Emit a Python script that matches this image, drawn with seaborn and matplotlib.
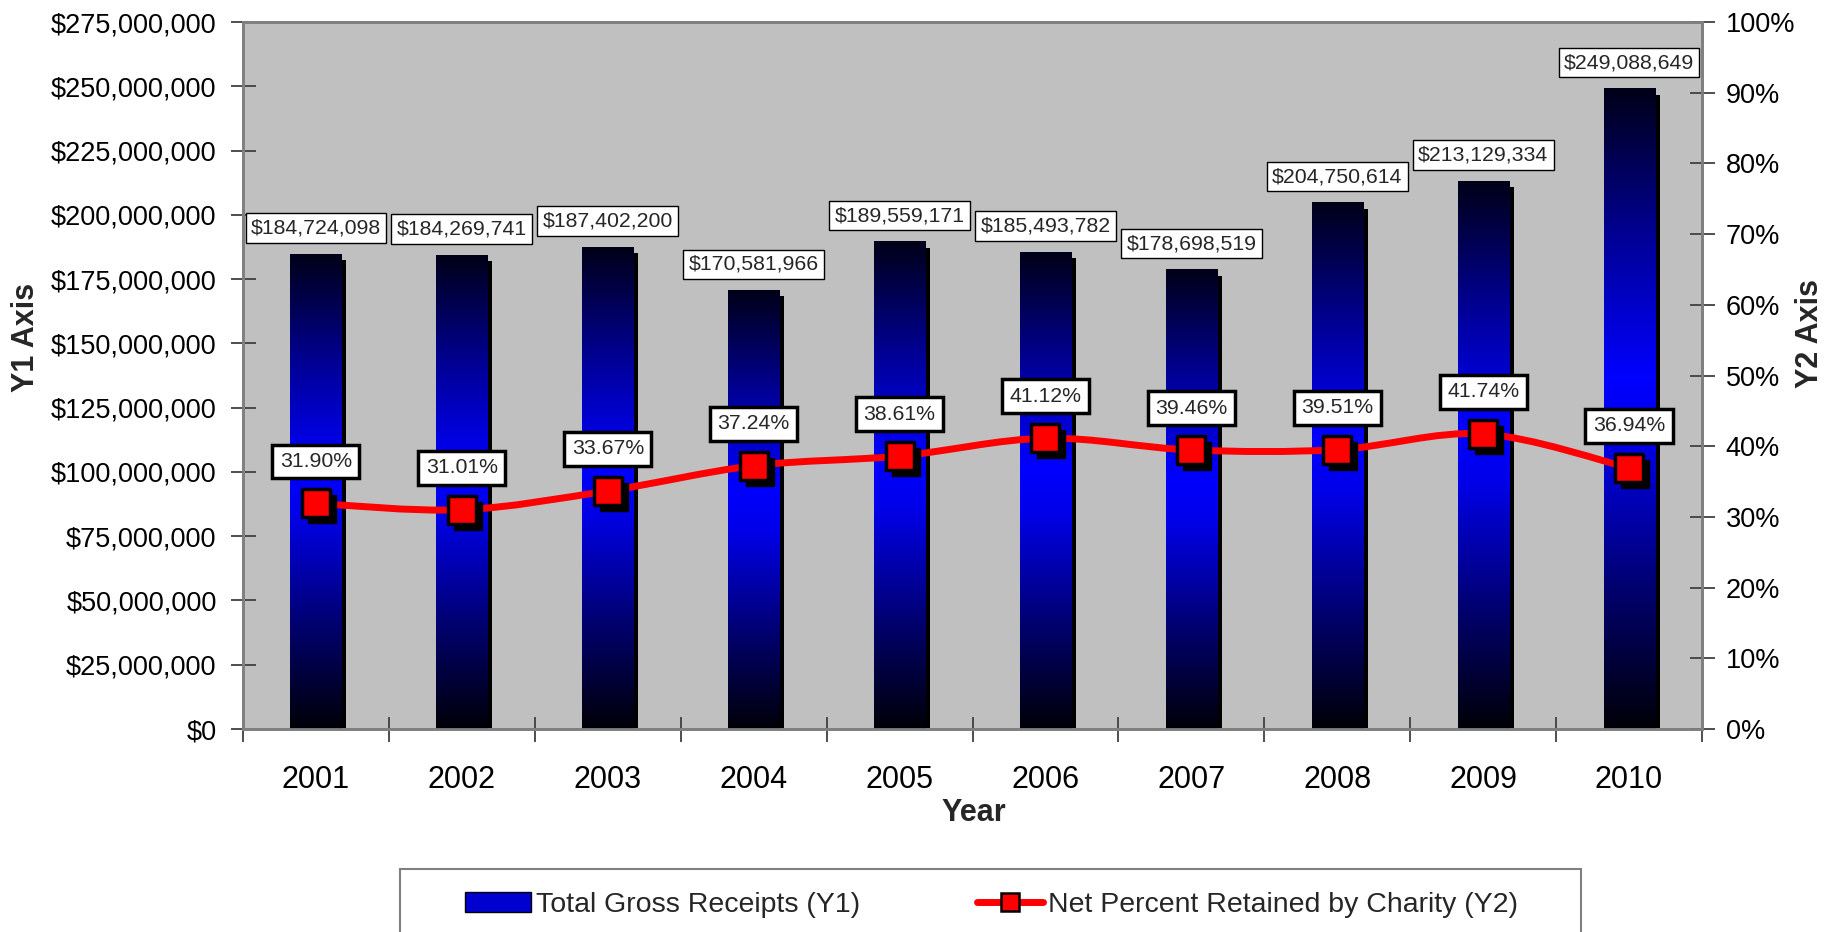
import numpy as np
import pandas as pd
import matplotlib
matplotlib.use("Agg")
import matplotlib.pyplot as plt
import matplotlib.transforms as mtransforms
from matplotlib.colors import LinearSegmentedColormap
from matplotlib.path import Path
from matplotlib.patches import PathPatch, Rectangle, Patch
from matplotlib.lines import Line2D
from matplotlib.ticker import FuncFormatter, MultipleLocator, FixedLocator
import seaborn as sns

# data
years = ["2001", "2002", "2003", "2004", "2005", "2006", "2007", "2008", "2009", "2010"]
gross_receipts = [184724098, 184269741, 187402200, 170581966, 189559171,
                  185493782, 178698519, 204750614, 213129334, 249088649]
net_pct = [31.90, 31.01, 33.67, 37.24, 38.61, 41.12, 39.46, 39.51, 41.74, 36.94]

bar_label = "Total Gross Receipts (Y1)"
line_label = "Net Percent Retained by Charity (Y2)"

sns.set_theme(style="white")
plt.rcParams['font.family'] = ['Liberation Sans', 'DejaVu Sans']

W, H = 1837, 932
fig = plt.figure(figsize=(W / 100, H / 100), dpi=100)
ax = fig.add_axes([243 / W, 1 - 729 / H, (1702 - 243) / W, (729 - 22) / H])
ax.set_facecolor('#C0C0C0')

df = pd.DataFrame({"Year": years, "Gross": gross_receipts, "Pct": net_pct})
sns.barplot(data=df, x="Year", y="Gross", ax=ax, width=0.35, color="blue",
            saturation=1, zorder=3)

# excel-ish gradient fill + drop shadow on each bar
cmap = LinearSegmentedColormap.from_list(
    "bar_grad", [(0.0, "#000008"), (0.22, "#000070"), (0.45, "#0000e8"),
                 (0.55, "#0000ff"), (0.78, "#000090"), (1.0, "#000018")])
grad = np.linspace(0, 1, 512).reshape(-1, 1)
shadow_off = mtransforms.ScaledTranslation(5 / 100, -6 / 100, fig.dpi_scale_trans)
for p in ax.patches:
    x0, w, h = p.get_x(), p.get_width(), p.get_height()
    p.set_facecolor("none")
    p.set_edgecolor("none")
    ax.add_patch(Rectangle((x0, 0), w, h, facecolor="black", edgecolor="none",
                           transform=ax.transData + shadow_off, zorder=2))
    ax.imshow(grad, extent=[x0, x0 + w, 0, h], aspect="auto", cmap=cmap,
              origin="lower", zorder=3, interpolation="bilinear")

ax.set_xlim(-0.5, len(years) - 0.5)
ax.set_ylim(0, 275e6)
ax.yaxis.set_major_locator(MultipleLocator(25e6))
ax.yaxis.set_major_formatter(FuncFormatter(lambda v, _: f"${v:,.0f}"))
ax.set_xlabel("")
ax.set_ylabel("")

# dollar labels above bars
for i, g in enumerate(gross_receipts):
    ax.annotate(f"${g:,.0f}", (i, g), xytext=(0, 26), textcoords="offset pixels",
                ha="center", va="center", fontsize=15.3, zorder=6,
                bbox=dict(boxstyle="square,pad=0.25", fc="white", ec="black", lw=1))

# secondary axis with the smoothed line
ax2 = ax.twinx()
ax2.set_ylim(0, 100)
ax2.yaxis.set_major_locator(MultipleLocator(10))
ax2.yaxis.set_major_formatter(FuncFormatter(lambda v, _: f"{v:.0f}%"))

xs = np.arange(len(years), dtype=float)
ys = np.array(net_pct)
pts = np.column_stack([xs, ys])
verts = [pts[0]]
codes = [Path.MOVETO]
n = len(pts)
for i in range(n - 1):
    p0 = pts[i - 1] if i > 0 else pts[i]
    p3 = pts[i + 2] if i + 2 < n else pts[i + 1]
    c1 = pts[i] + (pts[i + 1] - p0) / 6
    c2 = pts[i + 1] - (p3 - pts[i]) / 6
    verts += [c1, c2, pts[i + 1]]
    codes += [Path.CURVE4] * 3
ax2.add_patch(PathPatch(Path(verts, codes), facecolor="none", edgecolor="red",
                        lw=5, capstyle="round", zorder=3))

mk_off = mtransforms.ScaledTranslation(6 / 100, -6 / 100, fig.dpi_scale_trans)
ax2.plot(xs, ys, "s", ms=20, color="black", transform=ax2.transData + mk_off, zorder=4)
sns.scatterplot(x=xs, y=ys, ax=ax2, marker="s", s=400, color="red",
                edgecolor="black", linewidth=2.5, zorder=5, legend=False)

for i, v in enumerate(net_pct):
    ax2.annotate(f"{v:.2f}%", (i, v), xytext=(0, 42), textcoords="offset pixels",
                 ha="center", va="center", fontsize=15.3, zorder=7,
                 bbox=dict(boxstyle="square,pad=0.35", fc="white", ec="black", lw=2.5))

# ticks / spines
ax.xaxis.set_major_locator(FixedLocator(xs))
ax.xaxis.set_minor_locator(FixedLocator(np.arange(-0.5, len(years), 1.0)))
ax.tick_params(axis="x", which="major", length=0, labelsize=22, pad=26, colors="black")
ax.tick_params(axis="x", which="minor", direction="inout", length=18, width=1.3,
               color="#404040", bottom=True)
ax.tick_params(axis="y", direction="inout", length=18, width=1.3, color="#404040",
               labelsize=19.5, pad=10, labelcolor="black", left=True)
ax2.tick_params(axis="y", direction="inout", length=18, width=1.3, color="#404040",
                labelsize=19.5, pad=8, labelcolor="black", right=True)
ax2.set_ylabel("")
for a in (ax, ax2):
    for s in a.spines.values():
        s.set_color("#808080")
        s.set_linewidth(2)

fig.text(26 / W, 1 - 337 / H, "Y1 Axis", rotation=90, ha="center", va="center",
         fontsize=22, fontweight="bold")
fig.text(1810 / W, 1 - 334 / H, "Y2 Axis", rotation=90, ha="center", va="center",
         fontsize=22, fontweight="bold")
fig.text(974 / W, 1 - 813 / H, "Year", ha="center", va="center",
         fontsize=22, fontweight="bold")

# legend box below the plot
fig.patches.append(Rectangle((400 / W, -0.05), 1181 / W, 0.05 + (932 - 869) / H,
                             transform=fig.transFigure, facecolor="white",
                             edgecolor="#808080", lw=1.5, zorder=0))
handles = [Patch(facecolor="#0000d0", edgecolor="black", lw=1),
           Line2D([], [], color="red", lw=5, marker="s", ms=13, mfc="red",
                  mec="black", mew=1.8)]
fig.legend(handles, [bar_label, line_label], loc="center left",
           bbox_to_anchor=(451 / W, 1 - 905 / H), ncol=2, frameon=False,
           fontsize=20.5, borderpad=0, handlelength=2.3, handletextpad=0.2,
           columnspacing=4.1)

fig.savefig("out.png", dpi=100)
